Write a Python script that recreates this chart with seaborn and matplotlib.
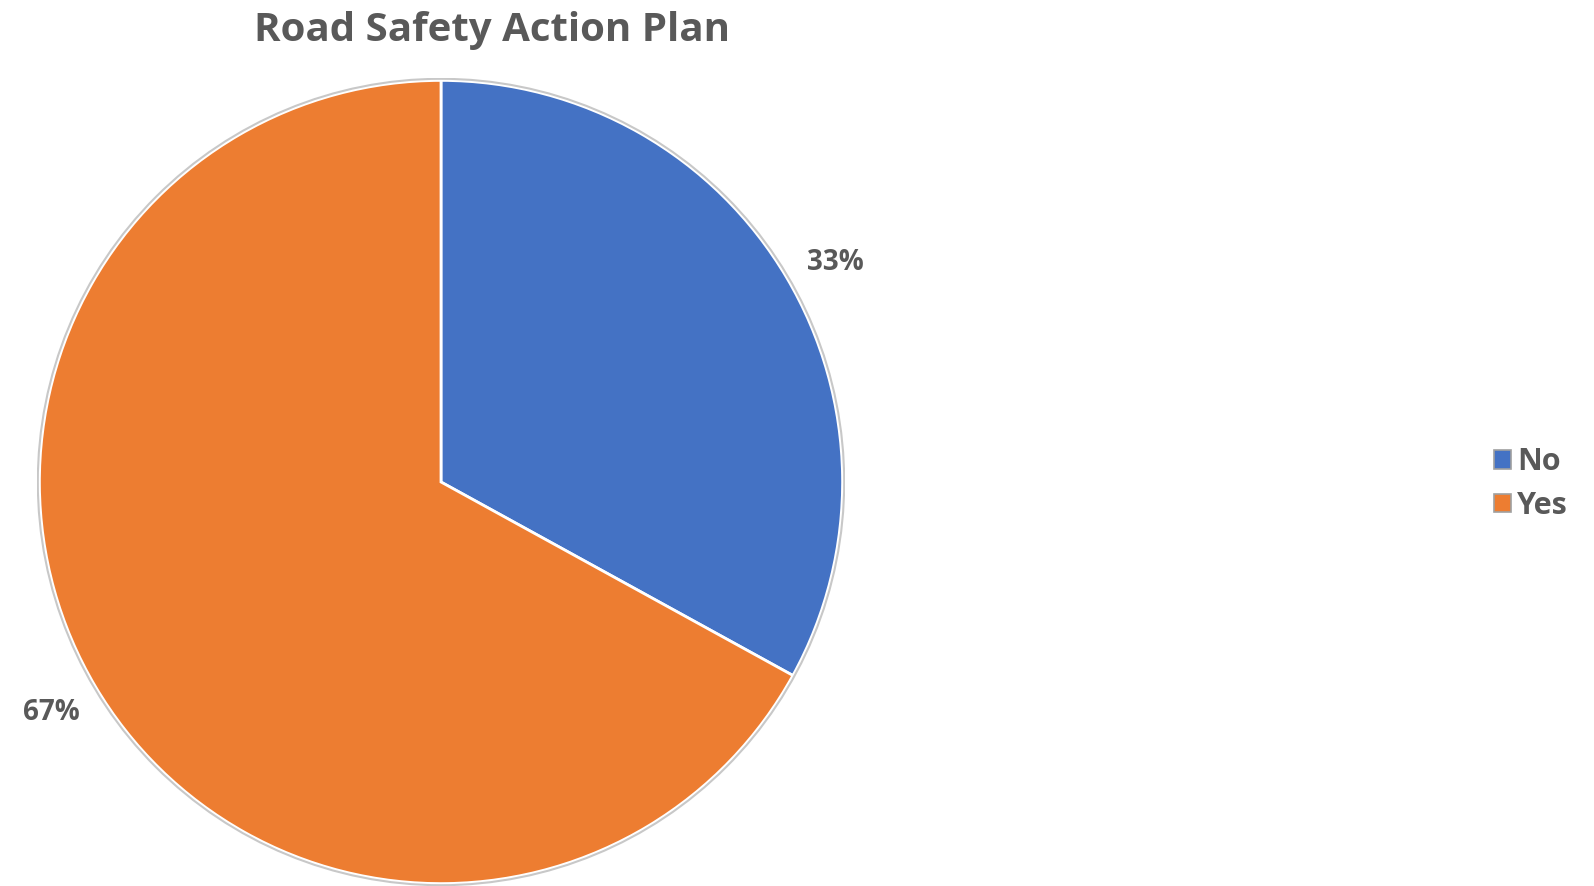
import numpy as np
import seaborn as sns
import matplotlib.pyplot as plt
from matplotlib.patches import Circle, Patch

# data
labels = ["No", "Yes"]
shares = [33, 67]
colors = ["#4472C4", "#ED7D31"]

sns.set_theme(style="white")
plt.rcParams['font.family'] = ['Open Sans', 'DejaVu Sans']
text_col = "#595959"

W, H = 1594, 886
fig = plt.figure(figsize=(W / 100, H / 100), dpi=100)

# pie centre / radius in pixels
cx, cy, r = 441, 482, 404
ax = fig.add_axes([(cx - r) / W, (H - cy - r) / H, 2 * r / W, 2 * r / H])

wedges, texts, autotexts = ax.pie(
    shares, colors=colors, startangle=90, counterclock=False,
    autopct='%1.0f%%', pctdistance=1.128, radius=1.0,
    wedgeprops=dict(edgecolor="white", linewidth=2),
    textprops=dict(color=text_col, fontsize=20, fontweight="bold"))
# excel "best fit" puts the small label a bit lower
x0, y0 = autotexts[0].get_position()
autotexts[0].set_position((x0 + 0.01, y0 - 0.027))
ax.add_patch(Circle((0, 0), 1.004, fill=False, edgecolor="#c8c8c8", linewidth=1.5))
ax.set_xlim(-1.006, 1.006)
ax.set_ylim(-1.006, 1.006)
ax.set_aspect('equal')
ax.axis('off')

fig.text(492 / W, 1 - 31 / H, "Road Safety Action Plan", ha="center", va="center",
         fontsize=29, fontweight="bold", color=text_col)

handles = [Patch(facecolor=c, edgecolor="#a0a0a0", linewidth=1.2) for c in colors]
fig.legend(handles, labels, loc="center left", bbox_to_anchor=(1479 / W, 1 - 484 / H),
           frameon=False, borderpad=0, handlelength=0.55, handleheight=0.55,
           handletextpad=0.2, labelspacing=0.45,
           prop=dict(size=22, weight="bold"), labelcolor=text_col)

fig.savefig("out.png", dpi=100)
